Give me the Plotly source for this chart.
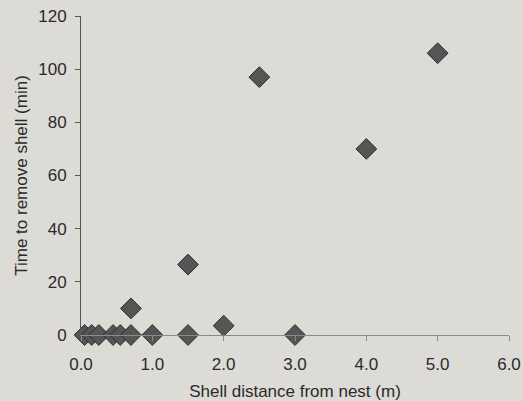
import plotly.graph_objects as go

distance_m = [0.05, 0.15, 0.25, 0.45, 0.55, 0.7, 1.0, 1.5, 3.0,
              0.7, 1.5, 2.0, 2.5, 4.0, 5.0]
time_min = [0, 0, 0, 0, 0, 0, 0, 0, 0,
            10, 26.5, 3.5, 97, 70, 106]

x_ticks = [0, 1, 2, 3, 4, 5, 6]
x_ticklabels = ["0.0", "1.0", "2.0", "3.0", "4.0", "5.0", "6.0"]
y_ticks = [0, 20, 40, 60, 80, 100, 120]

bg = "#dcdbd6"
fig = go.Figure(go.Scatter(
    x=distance_m, y=time_min, mode="markers", cliponaxis=False,
    marker=dict(symbol="diamond", size=16, color="#555555",
                line=dict(color="#2e2e2e", width=1)),
))
fig.update_layout(
    width=523, height=401,
    margin=dict(l=81, r=14, t=16, b=66, autoexpand=False),
    paper_bgcolor=bg, plot_bgcolor=bg,
    font=dict(family="Liberation Sans, Arial, sans-serif", size=17, color="#2a2a2a"),
    showlegend=False,
)
fig.update_xaxes(
    range=[0, 6], tickvals=x_ticks, ticktext=x_ticklabels,
    tickfont=dict(size=17), ticklabelstandoff=9,
    showgrid=False, zeroline=False, showline=True, linecolor="#8a8a8a", linewidth=1,
    ticks="outside", ticklen=5, tickcolor="#8a8a8a",
    title=dict(text="Shell distance from nest (m)", standoff=12, font=dict(size=17)),
)
fig.update_yaxes(
    range=[0, 120], tickvals=y_ticks,
    tickfont=dict(size=17), ticklabelstandoff=5,
    showgrid=False, zeroline=False, showline=True, linecolor="#555555", linewidth=1,
    ticks="outside", ticklen=5, tickcolor="#555555",
    title=dict(text="Time to remove shell (min)", standoff=6, font=dict(size=17)),
)
fig.write_html("out.html", config={"displayModeBar": False},
               post_script="document.body.style.margin='0';document.body.style.background='" + bg + "';")
